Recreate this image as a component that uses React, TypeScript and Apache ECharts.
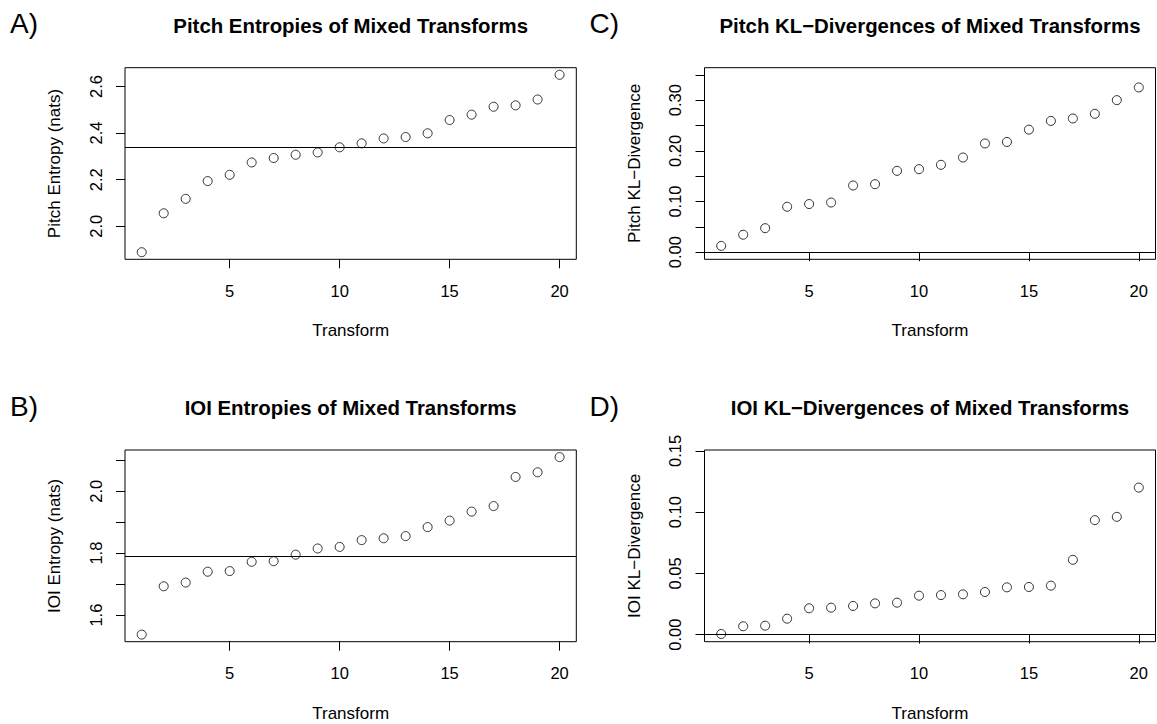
import React, { useEffect, useRef } from "react";
import * as echarts from "echarts";

// ---- data ----
const transforms = [1, 2, 3, 4, 5, 6, 7, 8, 9, 10, 11, 12, 13, 14, 15, 16, 17, 18, 19, 20];
const pitchEntropy = [1.889, 2.056, 2.118, 2.194, 2.221, 2.274, 2.293, 2.307, 2.317, 2.339, 2.356, 2.377, 2.383, 2.399, 2.456, 2.479, 2.513, 2.519, 2.544, 2.65];
const ioiEntropy = [1.537, 1.693, 1.705, 1.74, 1.742, 1.772, 1.774, 1.795, 1.815, 1.82, 1.842, 1.848, 1.855, 1.884, 1.905, 1.934, 1.952, 2.046, 2.061, 2.11];
const pitchKL = [0.0125, 0.0345, 0.0474, 0.0897, 0.095, 0.098, 0.1316, 0.1342, 0.1605, 0.1638, 0.1724, 0.1868, 0.2145, 0.2175, 0.2418, 0.259, 0.2638, 0.273, 0.3, 0.325];
const ioiKL = [0.0005, 0.0068, 0.0073, 0.013, 0.0215, 0.022, 0.0234, 0.0255, 0.0261, 0.0318, 0.0323, 0.0329, 0.0348, 0.0386, 0.0389, 0.04, 0.0611, 0.0935, 0.0962, 0.1201];

// reference lines
const pitchEntropyRef = 2.341;
const ioiEntropyRef = 1.786;
const pitchKLRef = 0;
const ioiKLRef = 0;

// ticks and labels
const xTicks = [5, 10, 15, 20];
const yTicksA = [2.0, 2.2, 2.4, 2.6];
const yLabelsA = [2.0, 2.2, 2.4, 2.6];
const yTicksB = [1.6, 1.7, 1.8, 1.9, 2.0, 2.1];
const yLabelsB = [1.6, 1.8, 2.0];
const yTicksC = [0, 0.05, 0.1, 0.15, 0.2, 0.25, 0.3, 0.35];
const yLabelsC = [0, 0.1, 0.2, 0.3];
const yTicksD = [0, 0.05, 0.1, 0.15];
const yLabelsD = [0, 0.05, 0.1, 0.15];

// axis limits (before R's 4% extension)
const yLimC = [0, 0.35];
const yLimD = [0, 0.145];

const FONT = "'Liberation Sans', Arial, Helvetica, sans-serif";

function ext(lo: number, hi: number): [number, number] {
  const d = (hi - lo) * 0.04;
  return [lo - d, hi + d];
}

type Panel = {
  letter: string;
  title: string;
  ylabel: string;
  data: number[];
  ref: number;
  yTicks: number[];
  yLabels: number[];
  lim: [number, number];
  digits: number;
  grid: { left: number; top: number; width: number; height: number };
};

export default function App() {
  const ref = useRef<HTMLDivElement>(null);

  useEffect(() => {
    if (!ref.current) return;
    const chart = echarts.init(ref.current, null, { renderer: "svg" });

    const xl = ext(transforms[0], transforms[transforms.length - 1]);
    const panels: Panel[] = [
      {
        letter: "A)", title: "Pitch Entropies of Mixed Transforms", ylabel: "Pitch Entropy (nats)",
        data: pitchEntropy, ref: pitchEntropyRef, yTicks: yTicksA, yLabels: yLabelsA,
        lim: ext(Math.min(...pitchEntropy), Math.max(...pitchEntropy)), digits: 1,
        grid: { left: 125, top: 67.7, width: 451.3, height: 191.6 },
      },
      {
        letter: "B)", title: "IOI Entropies of Mixed Transforms", ylabel: "IOI Entropy (nats)",
        data: ioiEntropy, ref: ioiEntropyRef, yTicks: yTicksB, yLabels: yLabelsB,
        lim: ext(Math.min(...ioiEntropy), Math.max(...ioiEntropy)), digits: 1,
        grid: { left: 125, top: 450, width: 451.3, height: 191.7 },
      },
      {
        letter: "C)", title: "Pitch KL\u2212Divergences of Mixed Transforms", ylabel: "Pitch KL\u2212Divergence",
        data: pitchKL, ref: pitchKLRef, yTicks: yTicksC, yLabels: yLabelsC,
        lim: ext(yLimC[0], yLimC[1]), digits: 2,
        grid: { left: 704.5, top: 67.7, width: 451, height: 191.6 },
      },
      {
        letter: "D)", title: "IOI KL\u2212Divergences of Mixed Transforms", ylabel: "IOI KL\u2212Divergence",
        data: ioiKL, ref: ioiKLRef, yTicks: yTicksD, yLabels: yLabelsD,
        lim: ext(yLimD[0], yLimD[1]), digits: 2,
        grid: { left: 704.5, top: 450, width: 451, height: 191.7 },
      },
    ];

    const titles: any[] = [];
    panels.forEach((p) => {
      const cx = p.grid.left + p.grid.width / 2;
      titles.push({
        text: p.title, left: cx, top: p.grid.top - 52, textAlign: "center", padding: 0,
        textStyle: { fontFamily: FONT, fontSize: 20.4, fontWeight: "bold", color: "#000" },
      });
      titles.push({
        text: p.letter, left: p.grid.left - 115, top: p.grid.top - 58, padding: 0,
        textStyle: { fontFamily: FONT, fontSize: 28, fontWeight: "normal", color: "#000" },
      });
    });

    const option: any = {
      animation: false,
      backgroundColor: "#fff",
      title: titles,
      grid: panels.map((p) => ({
        ...p.grid, show: true, borderColor: "#000", borderWidth: 1, backgroundColor: "transparent",
      })),
      xAxis: panels.map((p, i) => ({
        type: "value", gridIndex: i, min: xl[0], max: xl[1],
        name: "Transform", nameLocation: "middle", nameGap: 63,
        nameTextStyle: { fontFamily: FONT, fontSize: 17, color: "#000" },
        splitLine: { show: false },
        axisLine: { show: false },
        axisTick: { show: true, length: 9, customValues: xTicks, lineStyle: { color: "#000", width: 1 } },
        axisLabel: {
          customValues: xTicks, margin: 23, fontFamily: FONT, fontSize: 16.5, color: "#000",
          formatter: (v: number) => String(v),
        },
      })),
      yAxis: panels.map((p, i) => ({
        type: "value", gridIndex: i, min: p.lim[0], max: p.lim[1],
        name: p.ylabel, nameLocation: "middle", nameGap: 62, nameRotate: 90,
        nameTextStyle: { fontFamily: FONT, fontSize: 17, color: "#000" },
        splitLine: { show: false },
        axisLine: { show: false },
        axisTick: { show: true, length: 9, customValues: p.yTicks, lineStyle: { color: "#000", width: 1 } },
        axisLabel: {
          customValues: p.yLabels, rotate: 90, margin: 21, fontFamily: FONT, fontSize: 16.5, color: "#000",
          formatter: (v: number) => v.toFixed(p.digits),
        },
      })),
      series: panels.map((p, i) => ({
        type: "scatter", xAxisIndex: i, yAxisIndex: i,
        data: transforms.map((t, k) => [t, p.data[k]]),
        symbol: "circle", symbolSize: 9,
        itemStyle: { color: "rgba(0,0,0,0)", borderColor: "#000", borderWidth: 1 },
        emphasis: { disabled: true },
        markLine: {
          silent: true, symbol: "none", animation: false,
          label: { show: false },
          lineStyle: { color: "#000", width: 1, type: "solid" },
          data: [{ yAxis: p.ref }],
        },
      })),
    };

    chart.setOption(option);
    return () => chart.dispose();
  }, []);

  return (
    <div
      ref={ref}
      style={{ position: "fixed", left: 0, top: 0, width: 1157, height: 724, background: "#fff" }}
    />
  );
}
